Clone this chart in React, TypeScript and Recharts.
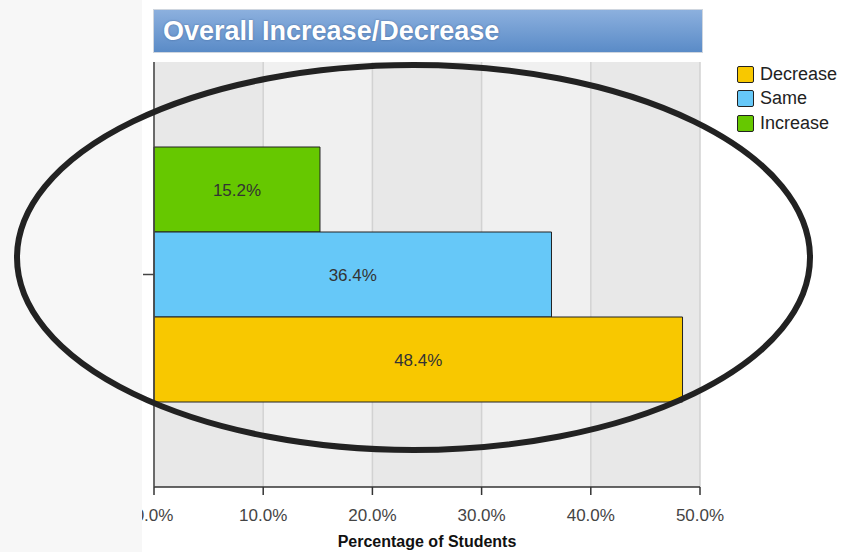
import React from "react";
import { BarChart, Bar, XAxis, YAxis, CartesianGrid, LabelList } from "recharts";

const categories = ["Overall"];
const increaseValues = [15.2];
const sameValues = [36.4];
const decreaseValues = [48.4];
const xTicks = [0, 10, 20, 30, 40, 50];

const series = [
  { key: "Decrease", color: "#f8c800" },
  { key: "Same", color: "#66c8f8" },
  { key: "Increase", color: "#66c800" },
];

const pct = (v: number) => `${Number(v).toFixed(1)}%`;

const FONT = "Arial, 'Liberation Sans', sans-serif";

export default function App() {
  const data = categories.map((c, i) => ({
    name: c,
    Increase: increaseValues[i],
    Same: sameValues[i],
    Decrease: decreaseValues[i],
  }));

  const colorOf = (k: string) => series.find((s) => s.key === k)!.color;

  return (
    <div
      style={{
        position: "absolute",
        left: 0,
        top: 0,
        width: 844,
        height: 552,
        background: "#ffffff",
        overflow: "hidden",
        fontFamily: FONT,
      }}
    >
      <BarChart
        width={844}
        height={552}
        data={data}
        layout="vertical"
        margin={{ top: 62, right: 144, bottom: 0, left: 143 }}
        barCategoryGap="20%"
        barGap={0}
      >
        <CartesianGrid
          horizontal={false}
          stroke="#d2d2d2"
          strokeWidth={1.5}
          verticalFill={["#e8e8e8", "#f0f0f0"]}
          fillOpacity={1}
        />
        <XAxis
          type="number"
          domain={[0, 50]}
          ticks={xTicks}
          tickFormatter={pct}
          height={65}
          stroke="#333"
          strokeWidth={1.5}
          tickSize={8}
          tick={{ fontSize: 17, fill: "#444", fontFamily: FONT, dy: 12 }}
          label={{
            value: "Percentage of Students",
            position: "insideBottom",
            offset: 5,
            style: { fontSize: 16, fontWeight: "bold", fill: "#111", fontFamily: FONT },
          }}
        />
        <YAxis
          type="category"
          dataKey="name"
          width={11}
          tickSize={11}
          stroke="#444"
          strokeWidth={1.5}
          tickFormatter={() => ""}
        />
        {["Increase", "Same", "Decrease"].map((k) => (
          <Bar
            key={k}
            dataKey={k}
            fill={colorOf(k)}
            stroke="#222"
            strokeWidth={1}
            isAnimationActive={false}
          >
            <LabelList
              dataKey={k}
              position="center"
              formatter={(v: any) => pct(v)}
              style={{ fontSize: 17, fill: "#333", fontFamily: FONT }}
            />
          </Bar>
        ))}
      </BarChart>

      {/* panel strip on the left edge */}
      <div
        style={{
          position: "absolute",
          left: 0,
          top: 0,
          width: 142,
          height: 552,
          background: "#f7f7f7",
        }}
      />

      {/* title bar */}
      <div
        style={{
          position: "absolute",
          left: 153,
          top: 9,
          width: 539,
          height: 42,
          border: "1px solid #cfd6df",
          background: "linear-gradient(#8cb0de, #5a8bc7)",
          color: "#fff",
          fontWeight: "bold",
          fontSize: 27,
          lineHeight: "42px",
          paddingLeft: 9,
          boxSizing: "content-box",
          textShadow: "0 0 2px rgba(40,70,120,0.6)",
        }}
      >
        Overall Increase/Decrease
      </div>

      {/* legend */}
      <div style={{ position: "absolute", left: 737, top: 62 }}>
        {series.map((s) => (
          <div
            key={s.key}
            style={{ display: "flex", alignItems: "center", height: 24.5 }}
          >
            <div
              style={{
                width: 15,
                height: 15,
                background: s.color,
                border: "1.5px solid #222",
                borderRadius: 2,
                marginRight: 6,
              }}
            />
            <span style={{ fontSize: 18, color: "#222" }}>{s.key}</span>
          </div>
        ))}
      </div>

      {/* hand-drawn highlight ring */}
      <svg
        width={844}
        height={552}
        style={{ position: "absolute", left: 0, top: 0, pointerEvents: "none" }}
      >
        <ellipse
          cx={413.5}
          cy={257.5}
          rx={396.5}
          ry={192.5}
          fill="none"
          stroke="#222"
          strokeWidth={6}
        />
      </svg>
    </div>
  );
}
